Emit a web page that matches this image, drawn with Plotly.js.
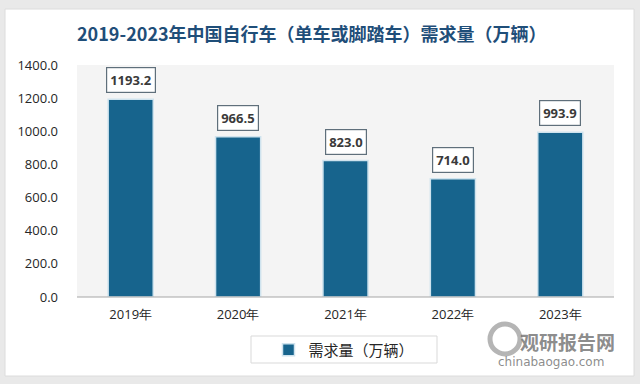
<!DOCTYPE html>
<html><head><meta charset="utf-8">
<script src="https://cdn.plot.ly/plotly-3.0.1.min.js"></script>
<style>html,body{margin:0;padding:0;background:#e9e9e9;}#c{width:640px;height:384px;}</style>
</head><body><div id="c"></div>
<script>
const categories = ['2019年','2020年','2021年','2022年','2023年'];
const values = [1193.2, 966.5, 823.0, 714.0, 993.9];
const yTicks = [0,200,400,600,800,1000,1200,1400];
const seriesName = '需求量（万辆）';
const titleText = '2019-2023年中国自行车（单车或脚踏车）需求量（万辆）';

const L = 77, R = 614, T = 65, B = 297, W = 640, H = 384;
const pw = R - L, ph = B - T;
function px(x){return (x - L)/pw;}
function py(y){return (B - y)/ph;}

const trace = {
  type:'bar', x: categories, y: values, name: seriesName,
  marker:{color:'#17648d', line:{color:'#cfe3ee', width:1.5}},
  hoverinfo:'none', showlegend:true
};

const annotations = values.map((v,i)=>({
  x: categories[i], y: v, xref:'x', yref:'y', yanchor:'bottom', yshift:6,
  text: '<b>'+v.toFixed(1)+'</b>', showarrow:false,
  font:{family:'Open Sans, DejaVu Sans, sans-serif', size:13, color:'#3a3a3a'},
  bgcolor:'#ffffff', bordercolor:'#5f6f7b', borderwidth:1.2, borderpad:3
}));
annotations.push({
  xref:'paper', yref:'paper', x:px(312), y:py(33), xanchor:'center', yanchor:'middle',
  text:'<b>'+titleText+'</b>', showarrow:false,
  font:{family:'Noto Sans CJK SC, sans-serif', size:18, color:'#1f4e79'}
});
annotations.push({
  xref:'paper', yref:'paper', x:px(567), y:py(341), xanchor:'center', yanchor:'middle',
  text:'<b>观研报告网</b>', showarrow:false,
  font:{family:'Noto Sans CJK SC, sans-serif', size:19, color:'rgba(110,110,110,0.8)'}
});
annotations.push({
  xref:'paper', yref:'paper', x:px(551), y:py(362), xanchor:'center', yanchor:'middle',
  text:'chinabaogao.com', showarrow:false,
  font:{family:'DejaVu Sans, sans-serif', size:12, color:'rgba(110,110,110,0.8)'}
});

const shapes = [
  {type:'rect', xref:'paper', yref:'paper', x0:px(5), x1:px(634), y0:py(9), y1:py(376),
   fillcolor:'#ffffff', line:{color:'#dcdcdc', width:1}, layer:'below'},
  {type:'rect', xref:'paper', yref:'paper', x0:0, x1:1, y0:0, y1:1,
   fillcolor:'#f4f4f4', line:{width:0}, layer:'below'},
  {type:'line', xref:'paper', yref:'paper', x0:0, x1:1, y0:0, y1:0, line:{color:'#a6a6a6', width:1}},
  {type:'rect', xref:'paper', yref:'paper', x0:px(251), x1:px(437), y0:py(336), y1:py(363),
   fillcolor:'#ffffff', line:{color:'#d9d9d9', width:1}, layer:'below'},
  {type:'circle', xref:'paper', yref:'paper', x0:px(490), x1:px(520), y0:py(354), y1:py(324),
   line:{color:'rgba(150,150,150,0.7)', width:5}, fillcolor:'rgba(0,0,0,0)'}
];

const layout = {
  width:W, height:H,
  margin:{l:L, r:W-R, t:T, b:H-B},
  paper_bgcolor:'#e9e9e9', plot_bgcolor:'rgba(0,0,0,0)',
  bargap:0.58,
  xaxis:{type:'category', showgrid:false, zeroline:false, showline:false, ticks:'',
    tickfont:{family:'Open Sans, DejaVu Sans, sans-serif', size:13, color:'#262626'}, ticklabelstandoff:8},
  yaxis:{range:[0,1400], tickvals:yTicks, ticktext:yTicks.map(v=>v.toFixed(1)), showgrid:false,
    zeroline:false, showline:false, ticks:'', ticklabelstandoff:18,
    tickfont:{family:'Open Sans, DejaVu Sans, sans-serif', size:13, color:'#262626'}},
  legend:{orientation:'h', xref:'paper', yref:'paper', x:px(344), y:py(350), xanchor:'center', yanchor:'middle',
    borderwidth:0, bgcolor:'rgba(0,0,0,0)',
    font:{family:'Noto Sans CJK SC, sans-serif', size:15, color:'#262626'}, itemwidth:30},
  annotations, shapes
};
Plotly.newPlot('c',[trace],layout,{displayModeBar:false, staticPlot:true});
</script></body></html>
